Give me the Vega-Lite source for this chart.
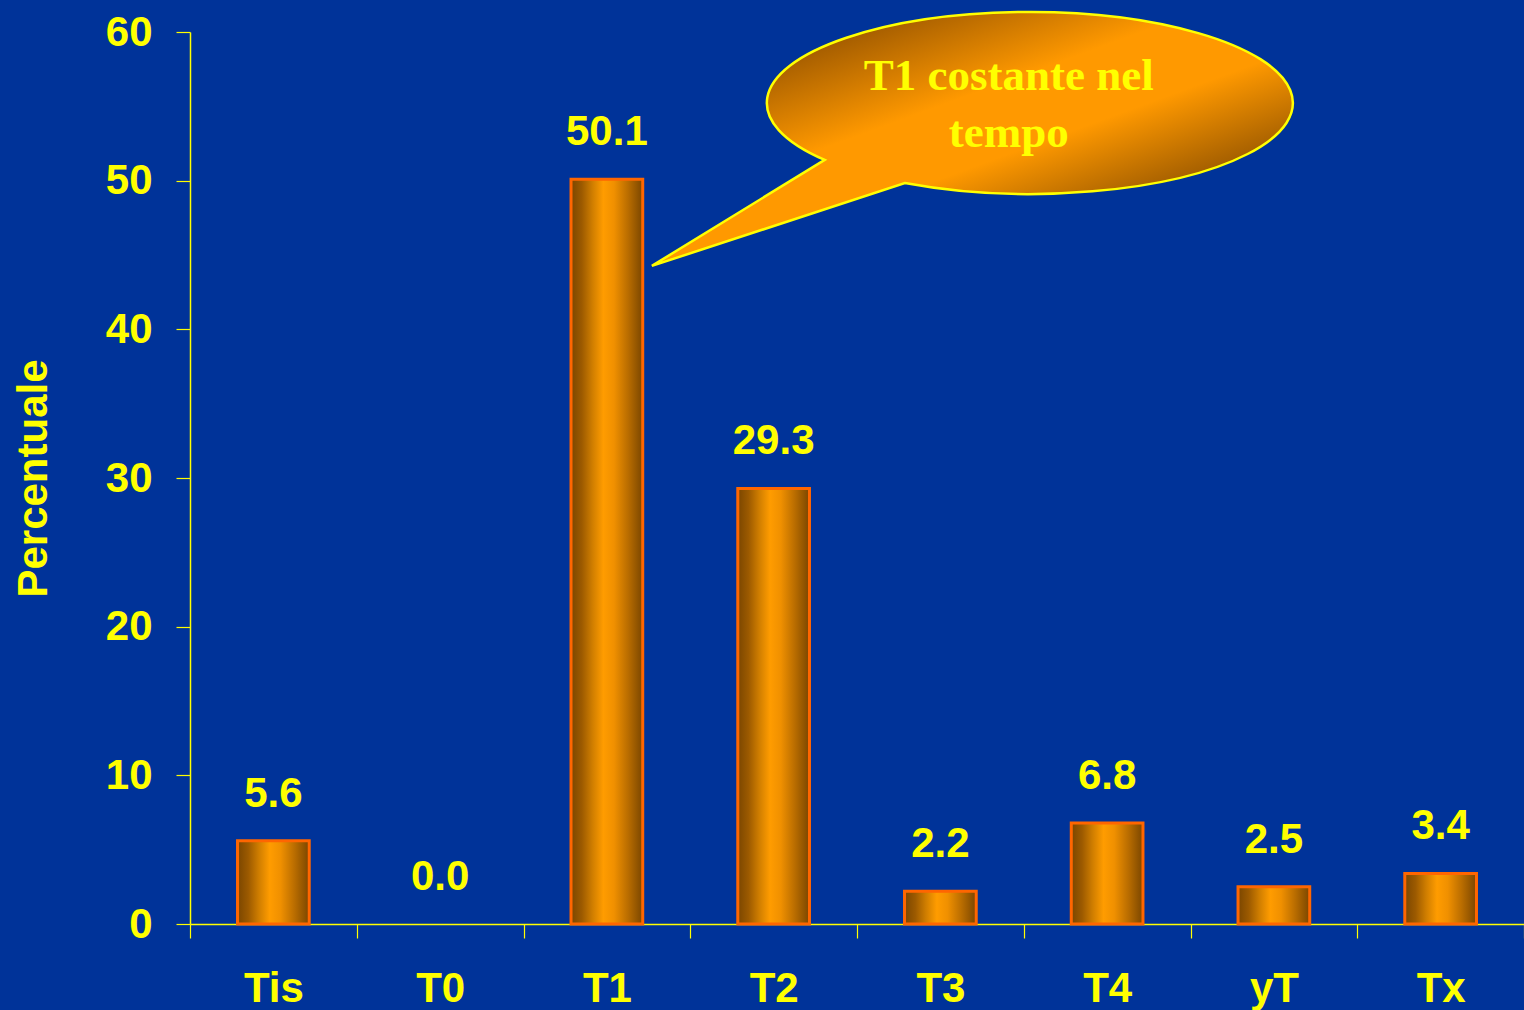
{
  "$schema": "https://vega.github.io/schema/vega-lite/v6.json",
  "width": 1334,
  "height": 892,
  "autosize": {"type": "none"},
  "padding": {"left": 190, "top": 32, "right": 0, "bottom": 86},
  "background": "#003399",
  "config": {"view": {"stroke": null}, "font": "Liberation Sans"},
  "datasets": {
    "bars": [
      {"cat": "Tis", "pct": 5.6},
      {"cat": "T0", "pct": 0.0},
      {"cat": "T1", "pct": 50.1},
      {"cat": "T2", "pct": 29.3},
      {"cat": "T3", "pct": 2.2},
      {"cat": "T4", "pct": 6.8},
      {"cat": "yT", "pct": 2.5},
      {"cat": "Tx", "pct": 3.4}
    ],
    "note": [{"cat": "T4", "pct": 55.43}],
    "notetext": [
      {"cat": "T4", "pct": 56.1, "t": "T1 costante nel"},
      {"cat": "T4", "pct": 52.26, "t": "tempo"}
    ]
  },
  "layer": [
    {
      "data": {"name": "bars"},
      "transform": [{"filter": "datum.pct > 0"}],
      "mark": {
        "type": "bar",
        "width": {"band": 0.43},
        "stroke": "#ff6600",
        "strokeWidth": 3,
        "fill": {
          "gradient": "linear", "x1": 0, "y1": 0, "x2": 1, "y2": 0,
          "stops": [
            {"offset": 0, "color": "#7a4600"},
            {"offset": 0.15, "color": "#9c5a00"},
            {"offset": 0.3, "color": "#d07e00"},
            {"offset": 0.45, "color": "#ff9c00"},
            {"offset": 0.6, "color": "#f09000"},
            {"offset": 0.8, "color": "#b86c00"},
            {"offset": 1, "color": "#7a4600"}
          ]
        }
      },
      "encoding": {
        "x": {
          "field": "cat", "type": "nominal",
          "scale": {"domain": ["Tis", "T0", "T1", "T2", "T3", "T4", "yT", "Tx"], "paddingInner": 0, "paddingOuter": 0},
          "axis": {
            "title": null, "labelAngle": 0, "labelFont": "Liberation Sans", "labelFontSize": 42,
            "labelFontWeight": "bold", "labelColor": "#ffff00", "domainColor": "#ffff00", "domainWidth": 1.5,
            "tickColor": "#ffff00", "tickSize": 14, "tickWidth": 1.2, "tickBand": "extent",
            "labelPadding": 30, "grid": false
          }
        },
        "y": {
          "field": "pct", "type": "quantitative",
          "scale": {"domain": [0, 60], "nice": false},
          "axis": {
            "title": "Percentuale", "titleFont": "Liberation Sans", "titleFontSize": 42, "titleFontWeight": "bold",
            "titleColor": "#ffff00", "titlePadding": 50, "values": [0, 10, 20, 30, 40, 50, 60],
            "labelFont": "Liberation Sans", "labelFontSize": 42, "labelFontWeight": "bold", "labelColor": "#ffff00",
            "labelPadding": 24, "labelFlush": false, "tickSize": 14, "tickColor": "#ffff00", "tickWidth": 1.2,
            "domainColor": "#ffff00", "domainWidth": 1.5, "grid": false
          }
        }
      }
    },
    {
      "data": {"name": "bars"},
      "mark": {"type": "text", "baseline": "alphabetic", "dy": -34, "fontSize": 42, "fontWeight": "bold", "font": "Liberation Sans", "fill": "#ffff00"},
      "encoding": {
        "x": {"field": "cat", "type": "nominal", "scale": {"domain": ["Tis", "T0", "T1", "T2", "T3", "T4", "yT", "Tx"]}},
        "y": {"field": "pct", "type": "quantitative", "scale": {"domain": [0, 60], "nice": false}},
        "text": {"field": "pct", "type": "quantitative", "format": ".1f"}
      }
    },
    {
      "data": {"name": "note"},
      "mark": {
        "type": "point",
        "shape": "M-0.452,0.316A1,0.346 0 1,0 -0.757,0.228L-1.414,0.631Z",
        "size": 276676,
        "filled": true,
        "opacity": 1,
        "stroke": "#ffff00",
        "strokeWidth": 2.5,
        "fill": {
          "gradient": "linear", "x1": 0.3, "y1": 0.05, "x2": 0.9, "y2": 0.7,
          "stops": [
            {"offset": 0, "color": "#9a5600"},
            {"offset": 0.38, "color": "#ff9900"},
            {"offset": 0.62, "color": "#ff9900"},
            {"offset": 1, "color": "#8a4e00"}
          ]
        }
      },
      "encoding": {
        "x": {"field": "cat", "type": "nominal", "bandPosition": 0, "scale": {"domain": ["Tis", "T0", "T1", "T2", "T3", "T4", "yT", "Tx"]}},
        "y": {"field": "pct", "type": "quantitative", "scale": {"domain": [0, 60], "nice": false}}
      }
    },
    {
      "data": {"name": "notetext"},
      "mark": {"type": "text", "baseline": "alphabetic", "align": "center", "dx": -15, "fontSize": 45, "fontWeight": "bold", "font": "Liberation Serif", "fill": "#ffff00"},
      "encoding": {
        "x": {"field": "cat", "type": "nominal", "bandPosition": 0, "scale": {"domain": ["Tis", "T0", "T1", "T2", "T3", "T4", "yT", "Tx"]}},
        "y": {"field": "pct", "type": "quantitative", "scale": {"domain": [0, 60], "nice": false}},
        "text": {"field": "t", "type": "nominal"}
      }
    }
  ]
}
